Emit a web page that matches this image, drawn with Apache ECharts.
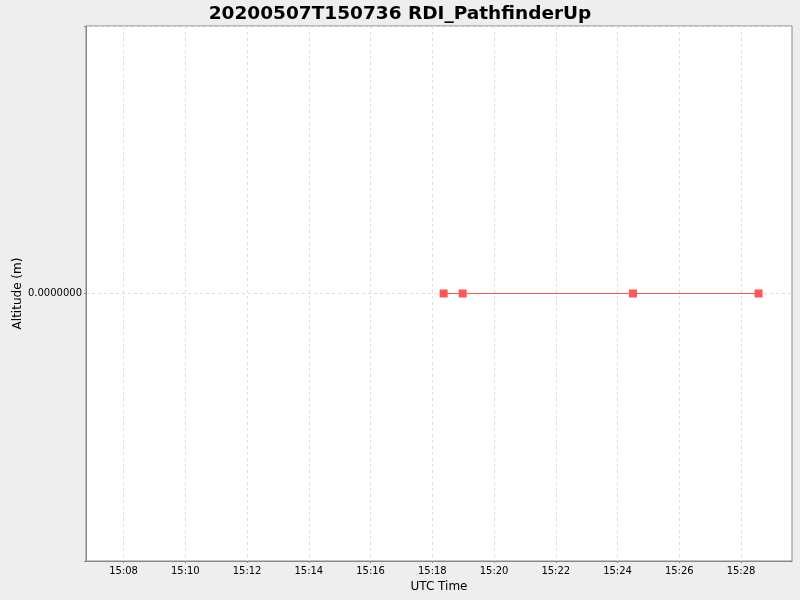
<!DOCTYPE html>
<html>
<head>
<meta charset="utf-8">
<script src="https://cdn.jsdelivr.net/npm/echarts@6/dist/echarts.min.js"></script>
<style>
  html, body { margin: 0; padding: 0; background: #eeeeee; }
  #chart { width: 800px; height: 600px; }
</style>
</head>
<body>
<div id="chart"></div>
<script>
// 数据
var times = ["2020-05-07T15:18:22Z", "2020-05-07T15:18:59Z", "2020-05-07T15:24:30Z", "2020-05-07T15:28:34Z"];
var altitudes = [0, 0, 0, 0];
var tickTimes = ["15:08", "15:10", "15:12", "15:14", "15:16", "15:18", "15:20", "15:22", "15:24", "15:26", "15:28"];
var axisStart = "2020-05-07T15:06:47Z";
var axisEnd = "2020-05-07T15:29:39Z";

var toMs = function (s) { return new Date(s).getTime(); };
var tickValues = tickTimes.map(function (t) { return toMs("2020-05-07T" + t + ":00Z"); });

var chart = echarts.init(document.getElementById("chart"));

var option = {
  useUTC: true,
  backgroundColor: "#eeeeee",
  animation: false,
  title: {
    text: "20200507T150736 RDI_PathfinderUp",
    left: "center",
    top: 0,
    textStyle: { fontFamily: "DejaVu Sans", fontSize: 18.5, fontWeight: "bold", color: "#000" }
  },
  grid: {
    left: 86, right: 8, top: 26, bottom: 39,
    outerBoundsMode: "none",
    containLabel: false,
    show: true, backgroundColor: "#ffffff", borderColor: "#888888", borderWidth: 1
  },
  xAxis: {
    type: "value",
    min: toMs(axisStart),
    max: toMs(axisEnd),
    name: "UTC Time",
    nameLocation: "middle",
    nameGap: 20,
    nameMoveOverlap: false,
    nameTextStyle: { fontFamily: "DejaVu Sans", fontSize: 12, color: "#000" },
    axisLine: { onZero: false, lineStyle: { color: "#888888" } },
    axisTick: { show: true, length: 2, customValues: tickValues, lineStyle: { color: "#888888" } },
    axisLabel: {
      fontFamily: "DejaVu Sans", fontSize: 10, color: "#000", margin: 5,
      customValues: tickValues,
      formatter: function (v) { return echarts.time.format(v, "{HH}:{mm}", true); }
    },
    splitLine: { show: true, lineStyle: { color: "#dddddd", type: [3, 3] } }
  },
  yAxis: {
    type: "value",
    min: -1, max: 1, interval: 1,
    name: "Altitude (m)",
    nameLocation: "middle",
    nameGap: 62,
    nameMoveOverlap: false,
    nameRotate: 90,
    nameTextStyle: { fontFamily: "DejaVu Sans", fontSize: 12, color: "#000" },
    axisLine: { show: true, onZero: false, lineStyle: { color: "#888888" } },
    axisTick: { show: true, length: 2, lineStyle: { color: "#888888" } },
    axisLabel: {
      fontFamily: "DejaVu Sans", fontSize: 10, color: "#000", margin: 4,
      formatter: function (v) { return v === 0 ? "0.0000000" : ""; }
    },
    splitLine: { show: true, lineStyle: { color: "#dddddd", type: [3, 3] } }
  },
  series: [{
    type: "line",
    data: times.map(function (t, i) { return [toMs(t), altitudes[i]]; }),
    symbol: "rect",
    symbolSize: 8,
    itemStyle: { color: "#ff5555" },
    lineStyle: { color: "#ff5555", width: 1 }
  }]
};

chart.setOption(option);
</script>
</body>
</html>
